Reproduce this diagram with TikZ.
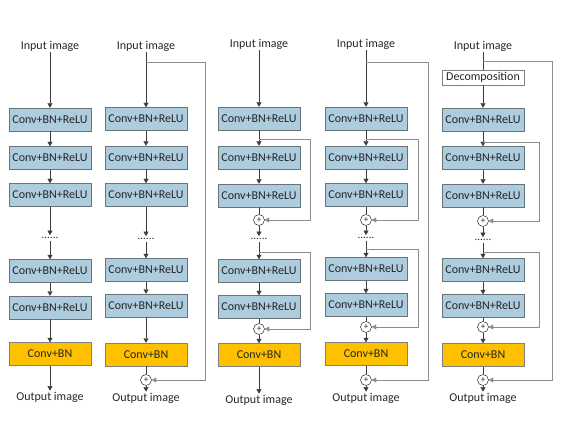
\documentclass[tikz,border=0pt]{standalone}
\usepackage{fontspec}
\setmainfont{Carlito}
\usetikzlibrary{positioning,arrows.meta}
\definecolor{boxblue}{RGB}{173,204,222}
\definecolor{bnyellow}{RGB}{255,192,0}
\definecolor{linegray}{RGB}{60,60,60}
\definecolor{skipgray}{RGB}{140,140,140}
\definecolor{edgegray}{RGB}{105,115,122}

\begin{document}
\begin{tikzpicture}[x=1pt, y=-1pt,
    every node/.style={font=\fontsize{12}{14}\selectfont, text=black!85},
    block/.style={draw=edgegray, fill=boxblue, minimum width=82pt, minimum height=23pt, inner sep=0pt},
    bnblock/.style={block, fill=bnyellow, draw=gray},
    decomp/.style={block, fill=white, draw=gray, minimum height=15pt},
    adder/.style={circle, draw=black, fill=white, inner sep=0pt, minimum size=11pt, font=\fontsize{9}{9}\selectfont},
    dotrow/.style={inner sep=2pt, font=\fontsize{11}{11}\selectfont},
    io/.style={inner sep=1pt},
    flow/.style={draw=linegray, -{Triangle[width=5pt,length=4.5pt]}},
    plain/.style={draw=linegray},
    skip/.style={draw=skipgray, -{Triangle[width=5pt,length=4.5pt]}}
]
\useasboundingbox (0,0) rectangle (562,422);

% plain network
\node[io] (in1) at (50,46) {Input image};
\node[block] (c1a) at (50,119.5) {Conv+BN+ReLU};
\node[block] (c1b) at (50,158) {Conv+BN+ReLU};
\node[block] (c1c) at (50,195) {Conv+BN+ReLU};
\node[dotrow] (d1) at (50,238) {......};
\node[block] (c1d) at (50,271) {Conv+BN+ReLU};
\node[block] (c1e) at (50,307.5) {Conv+BN+ReLU};
\node[bnblock] (c1f) at (50,354) {Conv+BN};
\node[io] (out1) at (50,397) {Output image};
\draw[flow] (in1) -- (c1a);
\draw[flow] (c1a) -- (c1b);
\draw[flow] (c1b) -- (c1c);
\draw[flow] (c1c) -- (d1);
\draw[flow] (d1) -- (c1d);
\draw[flow] (c1d) -- (c1e);
\draw[flow] (c1e) -- (c1f);
\draw[flow] (c1f) -- (out1);

% global residual
\node[io] (in2) at (146,46) {Input image};
\node[block] (c2a) at (146,119) {Conv+BN+ReLU};
\node[block] (c2b) at (146,157.5) {Conv+BN+ReLU};
\node[block] (c2c) at (146,195) {Conv+BN+ReLU};
\node[dotrow] (d2) at (146,239) {......};
\node[block] (c2d) at (146,270) {Conv+BN+ReLU};
\node[block] (c2e) at (146,305.5) {Conv+BN+ReLU};
\node[bnblock] (c2f) at (146,354.5) {Conv+BN};
\node[adder] (p2) at (146,380) {+};
\node[io] (out2) at (146,398) {Output image};
\coordinate (s2) at (146,62);
\coordinate (r2) at (205,62);
\draw[flow] (in2) -- (c2a);
\draw[flow] (c2a) -- (c2b);
\draw[flow] (c2b) -- (c2c);
\draw[flow] (c2c) -- (d2);
\draw[flow] (d2) -- (c2d);
\draw[flow] (c2d) -- (c2e);
\draw[flow] (c2e) -- (c2f);
\draw[plain] (c2f) -- (p2);
\draw[flow] (p2) -- (out2);
\draw[skip] (s2) -- (r2) |- (p2);

% local residual
\node[io] (in3) at (259,44) {Input image};
\node[block] (c3a) at (259,118.5) {Conv+BN+ReLU};
\node[block] (c3b) at (259,157.5) {Conv+BN+ReLU};
\node[block] (c3c) at (259,195.5) {Conv+BN+ReLU};
\node[adder] (p3a) at (259,220) {+};
\node[dotrow] (d3) at (259,239) {......};
\node[block] (c3d) at (259,271) {Conv+BN+ReLU};
\node[block] (c3e) at (259,307) {Conv+BN+ReLU};
\node[adder] (p3b) at (259,329) {+};
\node[bnblock] (c3f) at (259,355) {Conv+BN};
\node[io] (out3) at (259,400) {Output image};
\coordinate (s3a) at (259,139);
\coordinate (s3b) at (259,252);
\coordinate (r3) at (310,0);
\draw[flow] (in3) -- (c3a);
\draw[flow] (c3a) -- (c3b);
\draw[flow] (c3b) -- (c3c);
\draw[plain] (c3c) -- (p3a);
\draw[flow] (p3a) -- (d3);
\draw[flow] (d3) -- (c3d);
\draw[flow] (c3d) -- (c3e);
\draw[plain] (c3e) -- (p3b);
\draw[flow] (p3b) -- (c3f);
\draw[flow] (c3f) -- (out3);
\draw[skip] (s3a) -| (r3 |- p3a) -- (p3a);
\draw[skip] (s3b) -| (r3 |- p3b) -- (p3b);

% local + global residual
\node[io] (in4) at (366,44) {Input image};
\node[block] (c4a) at (366,118.5) {Conv+BN+ReLU};
\node[block] (c4b) at (366,157.5) {Conv+BN+ReLU};
\node[block] (c4c) at (366,195) {Conv+BN+ReLU};
\node[adder] (p4a) at (366,220) {+};
\node[dotrow] (d4) at (366,238) {......};
\node[block] (c4d) at (366,269) {Conv+BN+ReLU};
\node[block] (c4e) at (366,305) {Conv+BN+ReLU};
\node[adder] (p4b) at (366,327) {+};
\node[bnblock] (c4f) at (366,354) {Conv+BN};
\node[adder] (p4c) at (366,380) {+};
\node[io] (out4) at (366,398) {Output image};
\coordinate (s4) at (366,62);
\coordinate (s4a) at (366,139);
\coordinate (s4b) at (366,249);
\coordinate (r4) at (418,0);
\coordinate (g4) at (428,62);
\draw[flow] (in4) -- (c4a);
\draw[flow] (c4a) -- (c4b);
\draw[flow] (c4b) -- (c4c);
\draw[plain] (c4c) -- (p4a);
\draw[flow] (p4a) -- (d4);
\draw[flow] (d4) -- (c4d);
\draw[flow] (c4d) -- (c4e);
\draw[plain] (c4e) -- (p4b);
\draw[flow] (p4b) -- (c4f);
\draw[plain] (c4f) -- (p4c);
\draw[flow] (p4c) -- (out4);
\draw[skip] (s4a) -| (r4 |- p4a) -- (p4a);
\draw[skip] (s4b) -| (r4 |- p4b) -- (p4b);
\draw[skip] (s4) -- (g4) |- (p4c);

% with decomposition
\node[io] (in5) at (483,46) {Input image};
\node[decomp] (dec5) at (483,77.5) {Decomposition};
\node[block] (c5a) at (483,119.5) {Conv+BN+ReLU};
\node[block] (c5b) at (483,158) {Conv+BN+ReLU};
\node[block] (c5c) at (483,195.5) {Conv+BN+ReLU};
\node[adder] (p5a) at (483,221) {+};
\node[dotrow] (d5) at (483,240) {......};
\node[block] (c5d) at (483,270) {Conv+BN+ReLU};
\node[block] (c5e) at (483,306) {Conv+BN+ReLU};
\node[adder] (p5b) at (483,327) {+};
\node[bnblock] (c5f) at (483,355) {Conv+BN};
\node[adder] (p5c) at (483,380) {+};
\node[io] (out5) at (483,398) {Output image};
\coordinate (s5) at (483,61);
\coordinate (s5a) at (483,142);
\coordinate (s5b) at (483,252);
\coordinate (r5) at (539,0);
\coordinate (g5) at (552,61);
\draw[plain] (in5) -- (dec5);
\draw[flow] (dec5) -- (c5a);
\draw[flow] (c5a) -- (c5b);
\draw[flow] (c5b) -- (c5c);
\draw[plain] (c5c) -- (p5a);
\draw[flow] (p5a) -- (d5);
\draw[flow] (d5) -- (c5d);
\draw[flow] (c5d) -- (c5e);
\draw[plain] (c5e) -- (p5b);
\draw[flow] (p5b) -- (c5f);
\draw[plain] (c5f) -- (p5c);
\draw[flow] (p5c) -- (out5);
\draw[skip] (s5a) -| (r5 |- p5a) -- (p5a);
\draw[skip] (s5b) -| (r5 |- p5b) -- (p5b);
\draw[skip] (s5) -- (g5) |- (p5c);
\end{tikzpicture}
\end{document}
